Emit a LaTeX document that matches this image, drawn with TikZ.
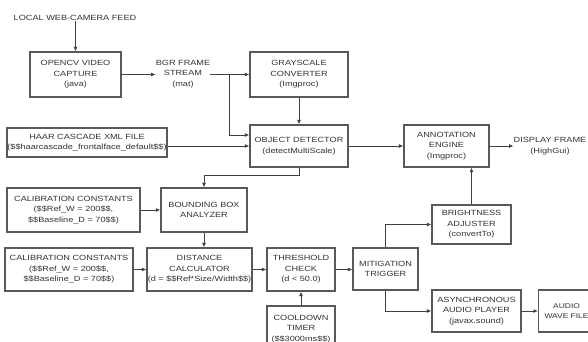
\documentclass[tikz,border=0pt]{standalone}
\usepackage{fontspec}
\setmainfont[FakeStretch=1.22]{Liberation Sans}
\usetikzlibrary{arrows.meta,calc}
\begin{document}
\begin{tikzpicture}[x=1pt,y=-1pt,
  every node/.style={font=\fontsize{7.5}{10.5}\selectfont, text=black!80, align=center, inner sep=0pt},
  box/.style={draw=black!65, line width=1.1pt, fill=white},
  arr/.style={draw=black!75, line width=0.9pt, -{Latex[length=4.5pt,width=4pt]}},
  ln/.style={draw=black!75, line width=0.9pt}]
\useasboundingbox (0,0) rectangle (588,342);
% text nodes
\node (feed) at (75,18) {LOCAL WEB-CAMERA FEED};
\node (bgr) at (183,74) {BGR FRAME\\STREAM\\(mat)};
\node (disp) at (550,146) {DISPLAY FRAME\\(HighGui)};
% boxes
\node[box, minimum width=91, minimum height=45] (cap) at (75.5,74.5) {OPENCV VIDEO\\CAPTURE\\(java)};
\node[box, minimum width=98, minimum height=45] (gray) at (299,74.5) {GRAYSCALE\\CONVERTER\\(Imgproc)};
\node[box, minimum width=160, minimum height=29] (haar) at (87,142.5) {HAAR CASCADE XML FILE\\(\$\$haarcascade\_frontalface\_default\$\$)};
\node[box, minimum width=98, minimum height=42] (det) at (299,146) {OBJECT DETECTOR\\(detectMultiScale)};
\node[box, minimum width=85, minimum height=42] (ann) at (446.5,146) {ANNOTATION\\ENGINE\\(Imgproc)};
\node[box, minimum width=133, minimum height=44] (cal1) at (73.5,210) {CALIBRATION CONSTANTS\\(\$\$Ref\_W = 200\$\$,\\\$\$Baseline\_D = 70\$\$)};
\node[box, minimum width=86, minimum height=44] (bba) at (204,210) {BOUNDING BOX\\ANALYZER};
\node[box, minimum width=128, minimum height=43] (cal2) at (69,269.5) {CALIBRATION CONSTANTS\\(\$\$Ref\_W = 200\$\$,\\\$\$Baseline\_D = 70\$\$)};
\node[box, minimum width=105, minimum height=43] (dist) at (199.5,269.5) {DISTANCE\\CALCULATOR\\(d = \$\$Ref*Size/Width\$\$)};
\node[box, minimum width=68, minimum height=43] (thr) at (301,269.5) {THRESHOLD\\CHECK\\(d < 50.0)};
\node[box, minimum width=68, minimum height=46] (cool) at (301,329) {COOLDOWN\\TIMER\\(\$\$3000ms\$\$)};
\node[box, minimum width=65, minimum height=42] (mit) at (385.5,269) {MITIGATION\\TRIGGER};
\node[box, minimum width=79, minimum height=39] (bri) at (471.5,224.5) {BRIGHTNESS\\ADJUSTER\\(convertTo)};
\node[box, minimum width=89, minimum height=42] (aud) at (476.5,311) {ASYNCHRONOUS\\AUDIO PLAYER\\(javax.sound)};
\node[box, minimum width=56, minimum height=42, anchor=west, text width=50, font=\fontsize{6.9}{10.5}\selectfont] (wav) at (538,311) {AUDIO\\WAVE FILE};
% connectors
\draw[arr] (feed.south -| cap.north) -- (cap.north);
\draw[arr] (cap.east) -- (cap.east -| bgr.west);
\draw[arr] (bgr.east |- gray.west) -- (gray.west);
\coordinate (br) at ($(bgr.east |- gray.west)!0.5!(gray.west)$);
\draw[arr] (br) |- ($(det.west)+(0,-11)$);
\draw[arr] (det.west -| haar.east) -- (det.west);
\draw[arr] (gray.south) -- (det.north);
\draw[arr] (det.south) -- ++(0,8) -| (bba.north);
\draw[arr] (cal1.east) -- (bba.west);
\draw[arr] (bba.south) -- (bba.south |- dist.north);
\draw[arr] (cal2.east) -- (cal2.east -| dist.west);
\draw[arr] (dist.east) -- (dist.east -| thr.west);
\draw[arr] (cool.north) -- (thr.south);
\draw[arr] (thr.east) -- (thr.east -| mit.west);
\draw[arr] (mit.north) |- (bri.west);
\draw[arr] (mit.south) |- (aud.west);
\draw[arr] (aud.east) -- (wav.west);
\draw[arr] (bri.north) -- (bri.north |- ann.south);
\draw[arr] (det.east) -- (ann.west);
\draw[arr] (ann.east) -- (ann.east -| disp.west);
\end{tikzpicture}
\end{document}
